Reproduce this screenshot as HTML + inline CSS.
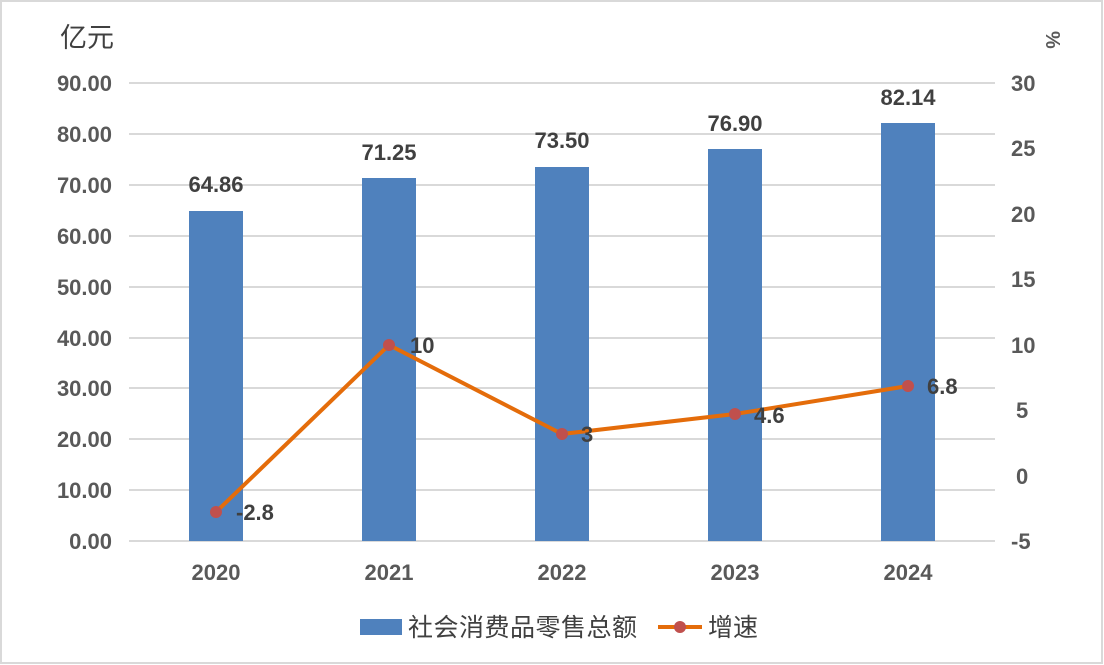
<!DOCTYPE html><html><head><meta charset="utf-8"><style>body{margin:0;background:#fff}svg{display:block}text{font-family:"Liberation Sans","Noto Sans CJK SC",sans-serif}</style></head><body>
<svg width="1104" height="665" viewBox="0 0 1104 665">
<rect x="1" y="1" width="1101" height="662" fill="#fff" stroke="#d9d9d9" stroke-width="2"/>
<g stroke="#d9d9d9" stroke-width="2">
<line x1="129" x2="995" y1="83" y2="83"/><line x1="129" x2="995" y1="134" y2="134"/><line x1="129" x2="995" y1="185" y2="185"/><line x1="129" x2="995" y1="236" y2="236"/><line x1="129" x2="995" y1="287" y2="287"/><line x1="129" x2="995" y1="338" y2="338"/><line x1="129" x2="995" y1="388" y2="388"/><line x1="129" x2="995" y1="439" y2="439"/><line x1="129" x2="995" y1="490" y2="490"/><line x1="129" x2="995" y1="541" y2="541"/>
</g>
<g font-size="22" font-weight="bold" fill="#595959" text-anchor="end">
<text x="112" y="91">90.00</text><text x="112" y="142">80.00</text><text x="112" y="193">70.00</text><text x="112" y="244">60.00</text><text x="112" y="295">50.00</text><text x="112" y="346">40.00</text><text x="112" y="396">30.00</text><text x="112" y="447">20.00</text><text x="112" y="498">10.00</text><text x="112" y="549">0.00</text>
</g>
<g font-size="22" font-weight="bold" fill="#595959" text-anchor="start">
<text x="1011" y="91">30</text><text x="1011" y="156">25</text><text x="1011" y="222">20</text><text x="1011" y="287">15</text><text x="1011" y="353">10</text><text x="1016" y="418">5</text><text x="1016" y="484">0</text><text x="1011" y="549">-5</text>
</g>
<text x="60" y="47" font-size="27" fill="#404040">亿元</text>
<text x="1038" y="39" font-size="20" font-weight="bold" fill="#595959" transform="rotate(90 1046 39)">%</text>
<g fill="#4f81bd">
<rect x="189" y="211" width="54" height="330"/><rect x="362" y="178" width="54" height="363"/><rect x="535" y="167" width="54" height="374"/><rect x="708" y="149" width="54" height="392"/><rect x="881" y="123" width="54" height="418"/>
</g>
<g font-size="22" font-weight="bold" fill="#404040" text-anchor="middle">
<text x="216" y="192">64.86</text><text x="389" y="160">71.25</text><text x="562" y="148">73.50</text><text x="735" y="131">76.90</text><text x="908" y="105">82.14</text>
</g>
<polyline points="216,512 389,345 562,434 735,414 908,386" fill="none" stroke="#e46c0a" stroke-width="4" stroke-linejoin="round"/>
<g fill="#c0504d"><circle cx="216" cy="512" r="6"/><circle cx="389" cy="345" r="6"/><circle cx="562" cy="434" r="6"/><circle cx="735" cy="414" r="6"/><circle cx="908" cy="386" r="6"/></g>
<g font-size="22" font-weight="bold" fill="#404040">
<text x="236" y="520">-2.8</text><text x="410" y="353">10</text><text x="581" y="442">3</text><text x="754" y="423">4.6</text><text x="927" y="394">6.8</text>
</g>
<g font-size="22" font-weight="bold" fill="#595959" text-anchor="middle">
<text x="216" y="580">2020</text><text x="389" y="580">2021</text><text x="562" y="580">2022</text><text x="735" y="580">2023</text><text x="908" y="580">2024</text>
</g>
<rect x="360" y="619" width="42" height="16" fill="#4f81bd"/>
<text x="408" y="636" font-size="25" fill="#404040" textLength="229">社会消费品零售总额</text>
<line x1="658" x2="702" y1="627" y2="627" stroke="#e46c0a" stroke-width="4"/>
<circle cx="680" cy="627" r="6" fill="#c0504d"/>
<text x="708" y="636" font-size="25" fill="#404040">增速</text>
</svg>
</body></html>
